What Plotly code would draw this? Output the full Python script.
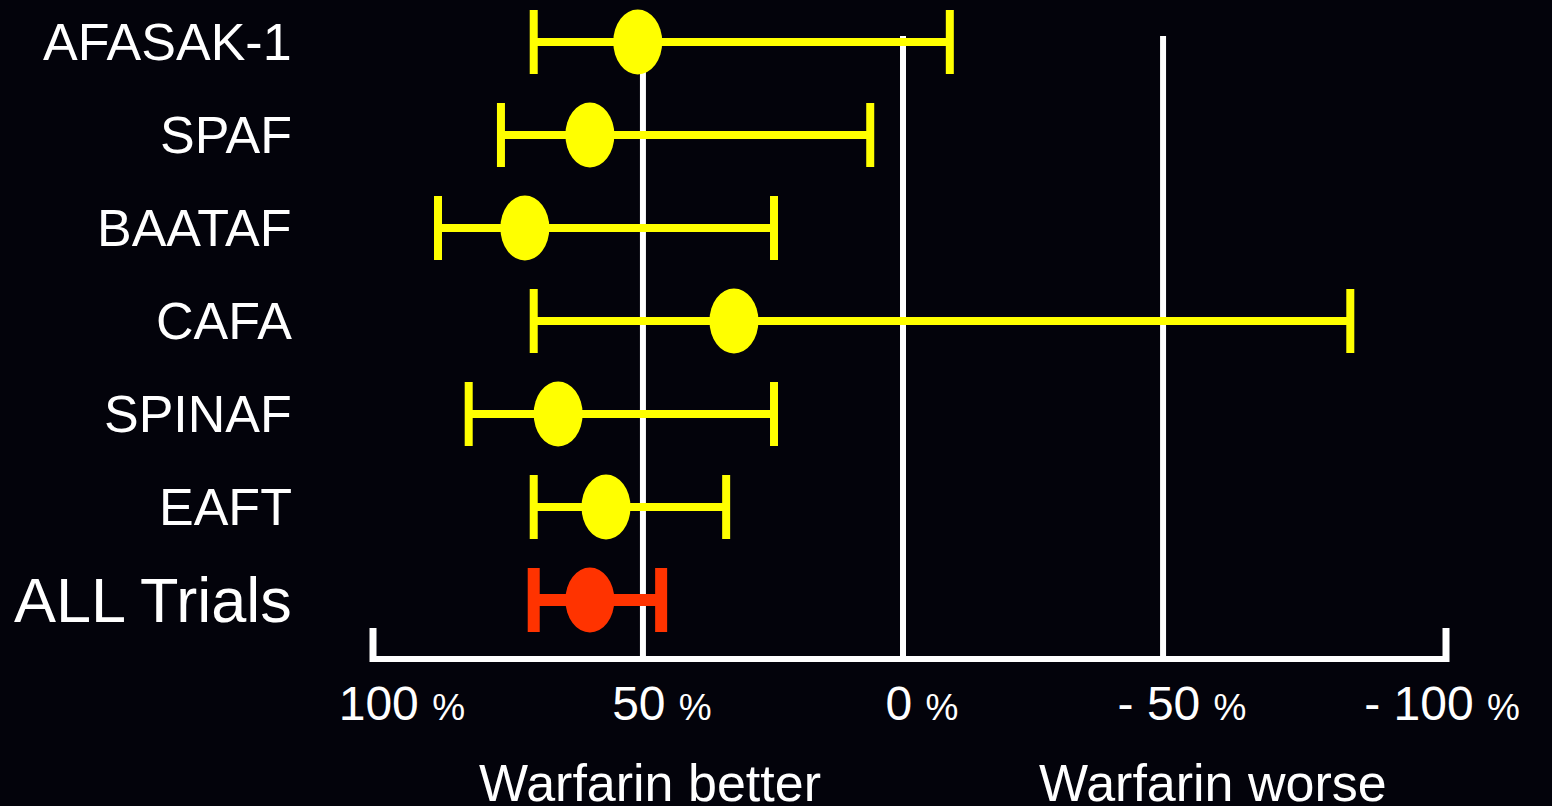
import plotly.graph_objects as go

# ---- data (relative risk reduction, %) ----
trials = ["AFASAK-1", "SPAF", "BAATAF", "CAFA", "SPINAF", "EAFT"]
trial_rrr = [51.0, 60.2, 72.7, 32.5, 66.3, 57.1]
trial_lo = [71.0, 77.3, 89.4, 71.0, 83.5, 71.0]      # left end of CI (greater reduction)
trial_hi = [-9.0, 6.3, 24.8, -86.0, 24.8, 34.0]      # right end of CI

pooled_name = "ALL Trials"
pooled_rrr = [60.2]
pooled_lo = [71.0]
pooled_hi = [46.5]

tick_values = [100, 50, 0, -50, -100]
tick_numbers = ["100", "50", "0", "- 50", "- 100"]
ref_lines = [50, 0, -50]
side_labels = ["Warfarin better", "Warfarin worse"]

# ---- style ----
BG = "#03030b"
YELLOW = "#ffff00"
RED = "#ff3300"
FONT = "Liberation Sans, Arial, sans-serif"

rows = trials + [pooled_name]
row_index = {name: i for i, name in enumerate(rows)}

fig = go.Figure()

fig.add_trace(go.Scatter(
    x=trial_rrr, y=[row_index[t] for t in trials], mode="markers",
    marker=dict(size=1, color=YELLOW),
    error_x=dict(type="data", symmetric=False,
                 array=[lo - v for lo, v in zip(trial_lo, trial_rrr)],
                 arrayminus=[v - hi for v, hi in zip(trial_rrr, trial_hi)],
                 color=YELLOW, thickness=8, width=32),
    showlegend=False, hoverinfo="skip"))

fig.add_trace(go.Scatter(
    x=pooled_rrr, y=[row_index[pooled_name]], mode="markers",
    marker=dict(size=1, color=RED),
    error_x=dict(type="data", symmetric=False,
                 array=[lo - v for lo, v in zip(pooled_lo, pooled_rrr)],
                 arrayminus=[v - hi for v, hi in zip(pooled_rrr, pooled_hi)],
                 color=RED, thickness=12, width=32),
    showlegend=False, hoverinfo="skip"))

shapes = []
# reference vertical lines
for v in ref_lines:
    shapes.append(dict(type="line", xref="x", yref="paper", x0=v, x1=v,
                       ysizemode="pixel", yanchor=0, y0=0, y1=620,
                       line=dict(color="white", width=6), layer="below"))
# end ticks of the axis
for px in [0, 1]:
    shapes.append(dict(type="line", xref="paper", yref="paper", x0=px, x1=px,
                       ysizemode="pixel", yanchor=0, y0=-6, y1=28,
                       line=dict(color="white", width=7)))
# ellipse point estimates
for name, v, col in [(t, r, YELLOW) for t, r in zip(trials, trial_rrr)] + \
        [(pooled_name, pooled_rrr[0], RED)]:
    shapes.append(dict(type="circle", xref="x", yref="y",
                       xsizemode="pixel", ysizemode="pixel",
                       xanchor=v, yanchor=row_index[name],
                       x0=-24.5, x1=24.5, y0=-32.5, y1=32.5,
                       fillcolor=col, line=dict(width=0), layer="above"))

annotations = []
for name in rows:
    annotations.append(dict(
        text=name, xref="paper", yref="y", x=0, xshift=-79, xanchor="right",
        y=row_index[name], yanchor="middle", showarrow=False,
        font=dict(family=FONT, size=63 if name == pooled_name else 52, color="white")))
for text, px in zip(side_labels, [0.258, 0.783]):
    annotations.append(dict(
        text=text, xref="paper", yref="paper", x=px, y=0, yshift=-127,
        xanchor="center", yanchor="middle", showarrow=False,
        font=dict(family=FONT, size=52, color="white")))

ticktext = [f"{n} <span style='font-size:37px'>%</span>" for n in tick_numbers]

fig.update_layout(
    width=1552, height=806,
    margin=dict(l=373, r=106, t=0, b=150),
    paper_bgcolor=BG, plot_bgcolor=BG,
    shapes=shapes, annotations=annotations,
    xaxis=dict(range=[101.9, -104.4], showgrid=False, zeroline=False,
               showline=True, linewidth=6, linecolor="white",
               tickvals=tick_values, ticktext=ticktext, ticks="",
               ticklabelshift=-19,
               tickfont=dict(family=FONT, size=48, color="white")),
    yaxis=dict(range=[6.602, -0.4516], showgrid=False, zeroline=False,
               showline=False, showticklabels=False),
)

fig.write_html("out.html",
               config={"displayModeBar": False},
               post_script="document.body.style.margin='0';"
                           "document.body.style.background='#03030b';")
